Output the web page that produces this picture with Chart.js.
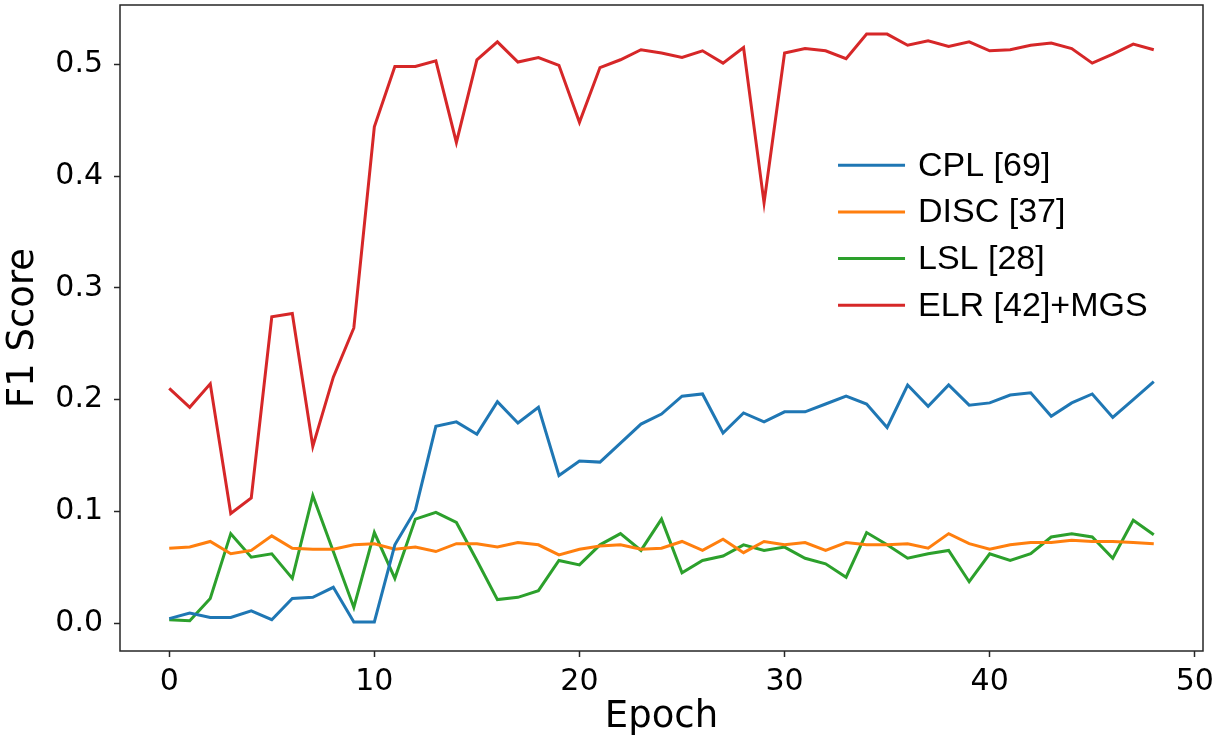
<!DOCTYPE html>
<html lang="en">
<head>
  <meta charset="UTF-8" />
  <title>F1 Score per Epoch</title>
  <script src="https://cdn.jsdelivr.net/npm/chart.js"></script>
  <style>
    html, body { margin: 0; padding: 0; background: #fff; }
    #wrap { width: 1217px; height: 740px; }
  </style>
</head>
<body>
  <div id="wrap">
    <canvas id="chart" width="1217" height="740"></canvas>
  </div>

  <script>
    // epochs on the x axis
    const epochs = [0, 1, 2, 3, 4, 5, 6, 7, 8, 9, 10, 11, 12, 13, 14, 15, 16, 17, 18, 19,
      20, 21, 22, 23, 24, 25, 26, 27, 28, 29, 30, 31, 32, 33, 34, 35, 36, 37, 38, 39,
      40, 41, 42, 43, 44, 45, 46, 47, 48];

    const cpl = [0.004, 0.009, 0.005, 0.005, 0.011, 0.003, 0.022, 0.023, 0.032, 0.001, 0.001, 0.070, 0.101,
      0.176, 0.180, 0.169, 0.198, 0.179, 0.193, 0.132, 0.145, 0.144, 0.161, 0.178, 0.187, 0.203,
      0.205, 0.170, 0.188, 0.180, 0.189, 0.189, 0.196, 0.203, 0.196, 0.175, 0.213, 0.194, 0.213,
      0.195, 0.197, 0.204, 0.206, 0.185, 0.197, 0.205, 0.184, 0.200, 0.216];

    const disc = [0.067, 0.068, 0.073, 0.062, 0.065, 0.078, 0.067, 0.066, 0.066, 0.070, 0.071, 0.066, 0.068,
      0.064, 0.071, 0.071, 0.068, 0.072, 0.070, 0.061, 0.066, 0.069, 0.070, 0.066, 0.067, 0.073,
      0.065, 0.075, 0.063, 0.073, 0.070, 0.072, 0.065, 0.072, 0.070, 0.070, 0.071, 0.067, 0.080,
      0.071, 0.066, 0.070, 0.072, 0.072, 0.074, 0.073, 0.073, 0.072, 0.071];

    const lsl = [0.003, 0.002, 0.022, 0.080, 0.059, 0.062, 0.040, 0.114, 0.064, 0.014, 0.081, 0.040, 0.093,
      0.099, 0.090, 0.056, 0.021, 0.023, 0.029, 0.056, 0.052, 0.070, 0.080, 0.065, 0.093, 0.045,
      0.056, 0.060, 0.070, 0.065, 0.068, 0.058, 0.053, 0.041, 0.081, 0.070, 0.058, 0.062, 0.065,
      0.037, 0.062, 0.056, 0.062, 0.077, 0.080, 0.077, 0.058, 0.092, 0.079];

    const elr = [0.210, 0.193, 0.214, 0.098, 0.112, 0.274, 0.277, 0.158, 0.220, 0.264, 0.444, 0.498, 0.498,
      0.503, 0.430, 0.504, 0.520, 0.502, 0.506, 0.499, 0.448, 0.497, 0.504, 0.513, 0.510, 0.506,
      0.512, 0.501, 0.515, 0.376, 0.510, 0.514, 0.512, 0.505, 0.527, 0.527, 0.517, 0.521, 0.516,
      0.520, 0.512, 0.513, 0.517, 0.519, 0.514, 0.501, 0.509, 0.518, 0.513];

    const seriesLabels = ['CPL [69]', 'DISC [37]', 'LSL [28]', 'ELR [42]+MGS'];
    const seriesColors = ['#1f77b4', '#ff7f0e', '#2ca02c', '#d62728'];
    const seriesValues = [cpl, disc, lsl, elr];

    const xTicks = [0, 10, 20, 30, 40, 50];
    const yTicks = [0.0, 0.1, 0.2, 0.3, 0.4, 0.5];

    const frameColor = '#262626';

    // box around the plot area (all four sides)
    const framePlugin = {
      id: 'frame',
      afterDatasetsDraw(chart) {
        const { ctx, chartArea: a } = chart;
        ctx.save();
        ctx.strokeStyle = frameColor;
        ctx.lineWidth = 1.5;
        ctx.strokeRect(a.left, a.top, a.right - a.left, a.bottom - a.top);
        ctx.restore();
      }
    };

    // legend drawn inside the plot, right of centre
    const innerLegend = {
      id: 'innerLegend',
      afterDraw(chart) {
        const { ctx, chartArea: a } = chart;
        const x0 = a.left + 0.663 * (a.right - a.left);
        const y0 = a.top + 0.248 * (a.bottom - a.top);
        const rowH = 46.7;
        ctx.save();
        ctx.font = '34px "Liberation Sans", Arial, sans-serif';
        ctx.textBaseline = 'middle';
        ctx.fillStyle = '#000';
        chart.data.datasets.forEach((ds, i) => {
          const y = y0 + i * rowH;
          ctx.strokeStyle = ds.borderColor;
          ctx.lineWidth = 3;
          ctx.beginPath();
          ctx.moveTo(x0, y);
          ctx.lineTo(x0 + 67, y);
          ctx.stroke();
          ctx.fillText(ds.label, x0 + 80, y + 1);
        });
        ctx.restore();
      }
    };

    const tickFont = { family: 'DejaVu Sans', size: 30 };
    const titleFont = { family: 'DejaVu Sans', size: 37 };

    new Chart(document.getElementById('chart'), {
      type: 'line',
      data: {
        datasets: seriesValues.map((vals, i) => ({
          label: seriesLabels[i],
          data: vals.map((v, j) => ({ x: epochs[j], y: v })),
          borderColor: seriesColors[i],
          backgroundColor: seriesColors[i],
          borderWidth: 3,
          pointRadius: 0,
          tension: 0,
          fill: false
        }))
      },
      options: {
        responsive: false,
        animation: false,
        devicePixelRatio: 1,
        layout: { padding: { top: 5, right: 14, left: 0, bottom: 0 } },
        plugins: {
          legend: { display: false },
          tooltip: { enabled: false }
        },
        scales: {
          x: {
            type: 'linear',
            min: -2.4,
            max: 50.4,
            afterFit: s => {
              s.height = 89;
              s.paddingLeft = 0;
              s.paddingRight = 0;
            },
            afterBuildTicks: s => { s.ticks = xTicks.map(v => ({ value: v })); },
            ticks: {
              font: tickFont,
              color: '#000',
              padding: 7,
              maxRotation: 0,
              callback: v => String(v)
            },
            grid: {
              drawOnChartArea: false,
              drawTicks: true,
              tickLength: 6,
              tickWidth: 1.5,
              tickColor: frameColor
            },
            border: { display: false },
            title: {
              display: true,
              text: 'Epoch',
              font: titleFont,
              color: '#000',
              padding: { top: 0, bottom: 0 }
            }
          },
          y: {
            min: -0.025,
            max: 0.553,
            afterFit: s => {
              s.width = 120;
              s.paddingTop = 0;
              s.paddingBottom = 0;
            },
            afterBuildTicks: s => { s.ticks = yTicks.map(v => ({ value: v })); },
            ticks: {
              font: tickFont,
              color: '#000',
              padding: 11,
              callback: v => Number(v).toFixed(1)
            },
            grid: {
              drawOnChartArea: false,
              drawTicks: true,
              tickLength: 6,
              tickWidth: 1.5,
              tickColor: frameColor
            },
            border: { display: false },
            title: {
              display: true,
              text: 'F1 Score',
              font: titleFont,
              color: '#000',
              padding: { top: 1, bottom: 0 }
            }
          }
        }
      },
      plugins: [framePlugin, innerLegend]
    });
  </script>
</body>
</html>
